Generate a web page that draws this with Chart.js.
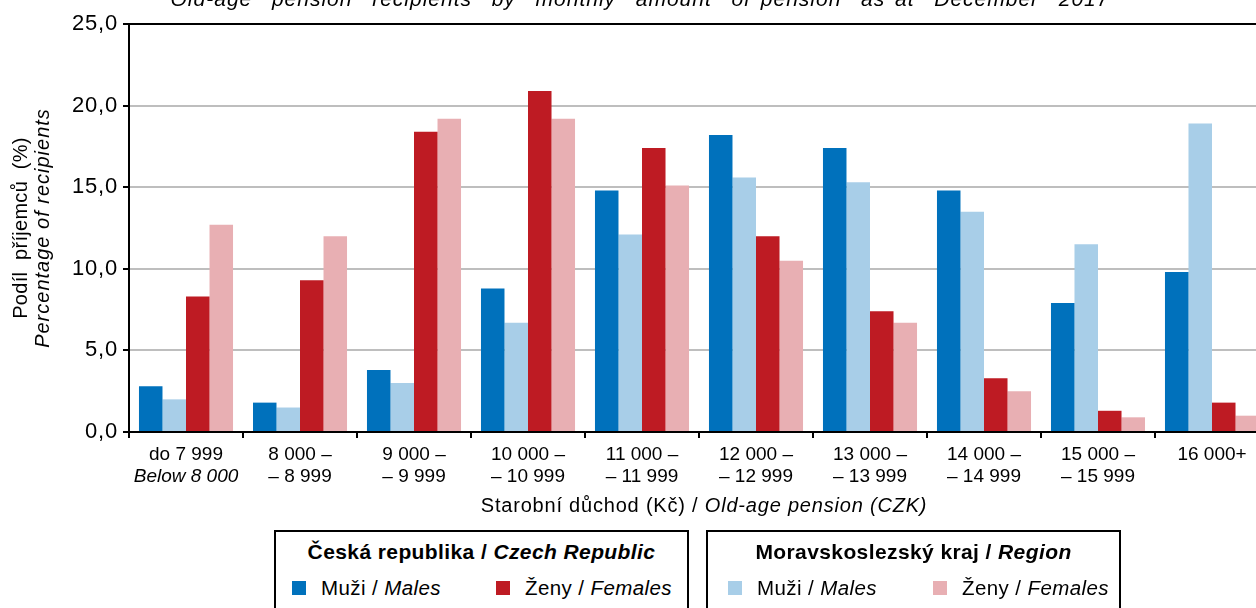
<!DOCTYPE html>
<html>
<head>
<meta charset="utf-8">
<script src="https://cdn.jsdelivr.net/npm/chart.js@4/dist/chart.umd.min.js"></script>
<style>
  html, body { margin: 0; padding: 0; background: #fff; width: 1256px; height: 608px; overflow: hidden; }
  #chart { position: absolute; left: 0; top: 0; }
  .box { position: absolute; top: 530px; width: 411px; height: 100px; border: 2px solid #000;
         font-family: "Liberation Sans", Arial, sans-serif; color: #000; background: #fff; }
  .box .head { position: absolute; left: 0; right: 0; top: 8px; text-align: center; font-size: 21px;
               font-weight: bold; line-height: 24px; letter-spacing: 0.4px; white-space: nowrap; }
  .box .item { position: absolute; top: 43px; height: 26px; line-height: 26px; font-size: 20.5px;
               letter-spacing: 0.4px; white-space: nowrap; }
  .box .sw { position: absolute; top: 6px; left: 0; width: 14px; height: 14px; }
  .box .lbl { position: absolute; left: 29px; top: 0; }
</style>
</head>
<body>
<canvas id="chart" width="1270" height="608"></canvas>

<div class="box" style="left:274px">
  <div class="head">Česká republika / <i>Czech Republic</i></div>
  <div class="item" style="left:16px"><span class="sw" id="sw0"></span><span class="lbl">Muži / <i>Males</i></span></div>
  <div class="item" style="left:220px"><span class="sw" id="sw2"></span><span class="lbl">Ženy / <i>Females</i></span></div>
</div>
<div class="box" style="left:706px">
  <div class="head">Moravskoslezský kraj / <i>Region</i></div>
  <div class="item" style="left:20px"><span class="sw" id="sw1"></span><span class="lbl">Muži / <i>Males</i></span></div>
  <div class="item" style="left:225px"><span class="sw" id="sw3"></span><span class="lbl">Ženy / <i>Females</i></span></div>
</div>

<script>
// Pension brackets (two-line category labels)
const categories = ['do 7 999', '8 000 –', '9 000 –', '10 000 –', '11 000 –',
                    '12 000 –', '13 000 –', '14 000 –', '15 000 –', '16 000+'];
const categoriesLine2 = ['Below 8 000', '– 8 999', '– 9 999', '– 10 999', '– 11 999',
                         '– 12 999', '– 13 999', '– 14 999', '– 15 999', ''];

// Share of recipients (%)
const czMales       = [2.8, 1.8, 3.8, 8.8, 14.8, 18.2, 17.4, 14.8, 7.9, 9.8];
const regionMales   = [2.0, 1.5, 3.0, 6.7, 12.1, 15.6, 15.3, 13.5, 11.5, 18.9];
const czFemales     = [8.3, 9.3, 18.4, 20.9, 17.4, 12.0, 7.4, 3.3, 1.3, 1.8];
const regionFemales = [12.7, 12.0, 19.2, 19.2, 15.1, 10.5, 6.7, 2.5, 0.9, 1.0];

// Value axis
const yMin = 0, yMax = 25, yStep = 5;

const FONT = '"Liberation Sans", Arial, sans-serif';
const COLORS = ['#0071BC', '#A8CEE8', '#BE1B23', '#E8AFB3'];

['sw0', 'sw1', 'sw2', 'sw3'].forEach((id, i) => {
  document.getElementById(id).style.background = COLORS[i];
});

// Slightly wider tracking for the axis tick numbers
const trackingPlugin = {
  id: 'tracking',
  beforeDraw(chart) { chart.ctx.letterSpacing = '0.8px'; }
};

const textPlugin = {
  id: 'texts',
  afterDraw(chart) {
    const ctx = chart.ctx;
    const x = chart.scales.x;
    const area = chart.chartArea;
    ctx.save();
    ctx.fillStyle = '#000';

    // Heading line at the very top
    ctx.font = 'italic 21px ' + FONT;
    ctx.letterSpacing = '1px';
    ctx.wordSpacing = '3px';
    ctx.textAlign = 'center';
    ctx.textBaseline = 'alphabetic';
    ctx.fillText('Old-age  pension  recipients  by  monthly  amount  of pension  as at  December  2017', 640, 6);
    ctx.wordSpacing = '0px';

    // Category labels below the axis
    ctx.letterSpacing = '0px';
    ctx.textBaseline = 'middle';
    categories.forEach((c, i) => {
      const px = x.getPixelForValue(i);
      ctx.font = '19px ' + FONT;
      ctx.fillText(c, px, area.bottom + 23);
      ctx.font = (i === 0 ? 'italic ' : '') + '19px ' + FONT;
      ctx.fillText(categoriesLine2[i], px, area.bottom + 45);
    });

    // X axis title, mixed upright / italic
    ctx.letterSpacing = '0.8px';
    const a = 'Starobní důchod (Kč) / ';
    const b = 'Old-age pension (CZK)';
    ctx.font = '20px ' + FONT;
    const wa = ctx.measureText(a).width;
    ctx.font = 'italic 20px ' + FONT;
    const wb = ctx.measureText(b).width;
    const cx = (area.left + area.right) / 2 + 5;
    const start = cx - (wa + wb) / 2;
    ctx.textAlign = 'left';
    ctx.font = '20px ' + FONT;
    ctx.fillText(a, start, area.bottom + 74);
    ctx.font = 'italic 20px ' + FONT;
    ctx.fillText(b, start + wa, area.bottom + 74);

    // Y axis title, two rotated lines
    const cy = (area.top + area.bottom) / 2;
    ctx.translate(0, cy);
    ctx.rotate(-Math.PI / 2);
    ctx.textAlign = 'center';
    ctx.letterSpacing = '0.3px';
    ctx.font = '20px ' + FONT;
    ctx.fillText('Podíl  příjemců  (%)', 0, 21);
    ctx.letterSpacing = '1px';
    ctx.font = 'italic 20px ' + FONT;
    ctx.fillText('Percentage of recipients', 0, 43);
    ctx.restore();
  }
};

new Chart(document.getElementById('chart'), {
  type: 'bar',
  data: {
    labels: categories,
    datasets: [
      { label: 'Česká republika – Muži', data: czMales, backgroundColor: COLORS[0] },
      { label: 'Moravskoslezský kraj – Muži', data: regionMales, backgroundColor: COLORS[1] },
      { label: 'Česká republika – Ženy', data: czFemales, backgroundColor: COLORS[2] },
      { label: 'Moravskoslezský kraj – Ženy', data: regionFemales, backgroundColor: COLORS[3] }
    ]
  },
  options: {
    responsive: false,
    animation: false,
    layout: { padding: { top: 24, right: 1, left: 0, bottom: 0 } },
    datasets: { bar: { categoryPercentage: 0.825, barPercentage: 1.0, borderWidth: 0 } },
    plugins: { legend: { display: false }, tooltip: { enabled: false }, title: { display: false } },
    scales: {
      x: {
        offset: true,
        grid: { display: true, drawOnChartArea: false, drawTicks: true, tickLength: 6,
                color: '#000', lineWidth: 2, offset: true },
        border: { display: true, color: '#000', width: 2 },
        ticks: { display: false },
        afterFit(s) { s.height = 176; }
      },
      y: {
        min: yMin, max: yMax,
        ticks: { stepSize: yStep, color: '#000', padding: 5,
                 font: { family: FONT, size: 22 },
                 callback: v => v.toFixed(1).replace('.', ',') },
        grid: { color: c => (c.tick && (c.tick.value === yMax || c.tick.value === yMin)) ? '#000' : '#BEBEBE',
                tickColor: '#000', lineWidth: 2, tickLength: 6 },
        border: { color: '#000', width: 2 },
        afterFit(s) { s.width = 129; }
      }
    }
  },
  plugins: [trackingPlugin, textPlugin]
});
</script>
</body>
</html>
